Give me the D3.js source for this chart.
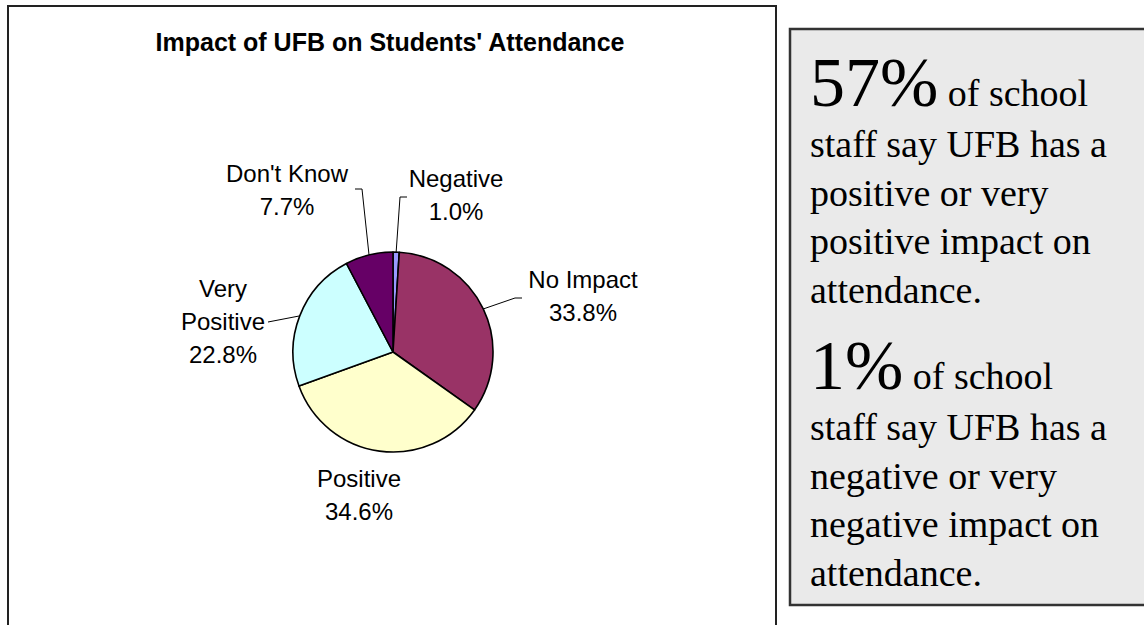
<!DOCTYPE html>
<html>
<head>
<meta charset="utf-8">
<script src="https://cdn.jsdelivr.net/npm/d3@7"></script>
<style>
  body { margin: 0; background: #fff; }
</style>
</head>
<body>
<div id="chart"></div>
<script>
// dati del grafico
const categories = ["Negative", "No Impact", "Positive", "Very Positive", "Don't Know"];
const shares = [1.0, 33.8, 34.6, 22.8, 7.7];
const sliceColors = ["#9999FF", "#993366", "#FFFFCC", "#CCFFFF", "#660066"];
const labelLines = [["Negative"], ["No Impact"], ["Positive"], ["Very", "Positive"], ["Don't Know"]];
const titleText = "Impact of UFB on Students' Attendance";
const noteTop = ["57%", " of school", "staff say UFB has a", "positive or very", "positive impact on", "attendance."];
const noteBottom = ["1%", " of school", "staff say UFB has a", "negative or very", "negative impact on", "attendance."];

const width = 1144;
const height = 625;

const svg = d3.select("#chart")
  .append("svg")
  .attr("width", width)
  .attr("height", height);

// cornice del grafico (il bordo inferiore esce dalla pagina)
svg.append("rect")
  .attr("x", 8).attr("y", 6)
  .attr("width", 768).attr("height", 700)
  .attr("fill", "#fff")
  .attr("stroke", "#222")
  .attr("stroke-width", 2);

svg.append("text")
  .attr("x", 390).attr("y", 51)
  .attr("text-anchor", "middle")
  .attr("font-family", "Liberation Sans, Arial, sans-serif")
  .attr("font-weight", "bold")
  .attr("font-size", 25)
  .text(titleText);

// torta
const cx = 393, cy = 352, r = 100;
const pie = d3.pie().sort(null).value(d => d)(shares);
const arc = d3.arc().innerRadius(0).outerRadius(r);

const g = svg.append("g").attr("transform", `translate(${cx},${cy})`);

g.selectAll("path")
  .data(pie)
  .enter().append("path")
  .attr("d", arc)
  .attr("fill", (d, i) => sliceColors[i])
  .attr("stroke", "#000")
  .attr("stroke-width", 1.6)
  .attr("stroke-linejoin", "round");

// posizione delle etichette (centro, prima riga) e gomiti delle linee guida
const labelPos = [[456, 187], [583, 288], [359, 487], [223, 297], [287, 182]];
const leaderBends = [[[400, 197], [407, 197]], [[515, 298], [522, 298]], null, [[268, 322]], [[362, 189], [355, 189]]];
const lineH = 33;

pie.forEach((d, i) => {
  const bends = leaderBends[i];
  if (bends) {
    const mid = (d.startAngle + d.endAngle) / 2;
    const p0 = [cx + r * Math.sin(mid), cy - r * Math.cos(mid)];
    svg.append("path")
      .attr("d", d3.line()([p0, ...bends]))
      .attr("fill", "none")
      .attr("stroke", "#000")
      .attr("stroke-width", 1);
  }
  const lines = labelLines[i].concat([d3.format(".1f")(shares[i]) + "%"]);
  const t = svg.append("text")
    .attr("text-anchor", "middle")
    .attr("font-family", "Liberation Sans, Arial, sans-serif")
    .attr("font-size", 24)
    .attr("fill", "#000");
  lines.forEach((s, k) => {
    t.append("tspan")
      .attr("x", labelPos[i][0])
      .attr("y", labelPos[i][1] + k * lineH)
      .text(s);
  });
});

// riquadro di testo a destra
svg.append("rect")
  .attr("x", 790).attr("y", 29)
  .attr("width", 400).attr("height", 576)
  .attr("fill", "#EAEAEA")
  .attr("stroke", "#333")
  .attr("stroke-width", 2.5);

function note(lines, y0) {
  const t = svg.append("text")
    .attr("font-family", "Liberation Serif, Times New Roman, serif")
    .attr("fill", "#000");
  const first = t.append("tspan").attr("x", 810).attr("y", y0);
  first.append("tspan").attr("font-size", 70).text(lines[0]);
  first.append("tspan").attr("font-size", 38).text(lines[1]);
  lines.slice(2).forEach((s, k) => {
    t.append("tspan")
      .attr("x", 810)
      .attr("y", y0 + 51 + k * 48.5)
      .attr("font-size", 38)
      .text(s);
  });
}
note(noteTop, 106);
note(noteBottom, 389);
</script>
</body>
</html>
